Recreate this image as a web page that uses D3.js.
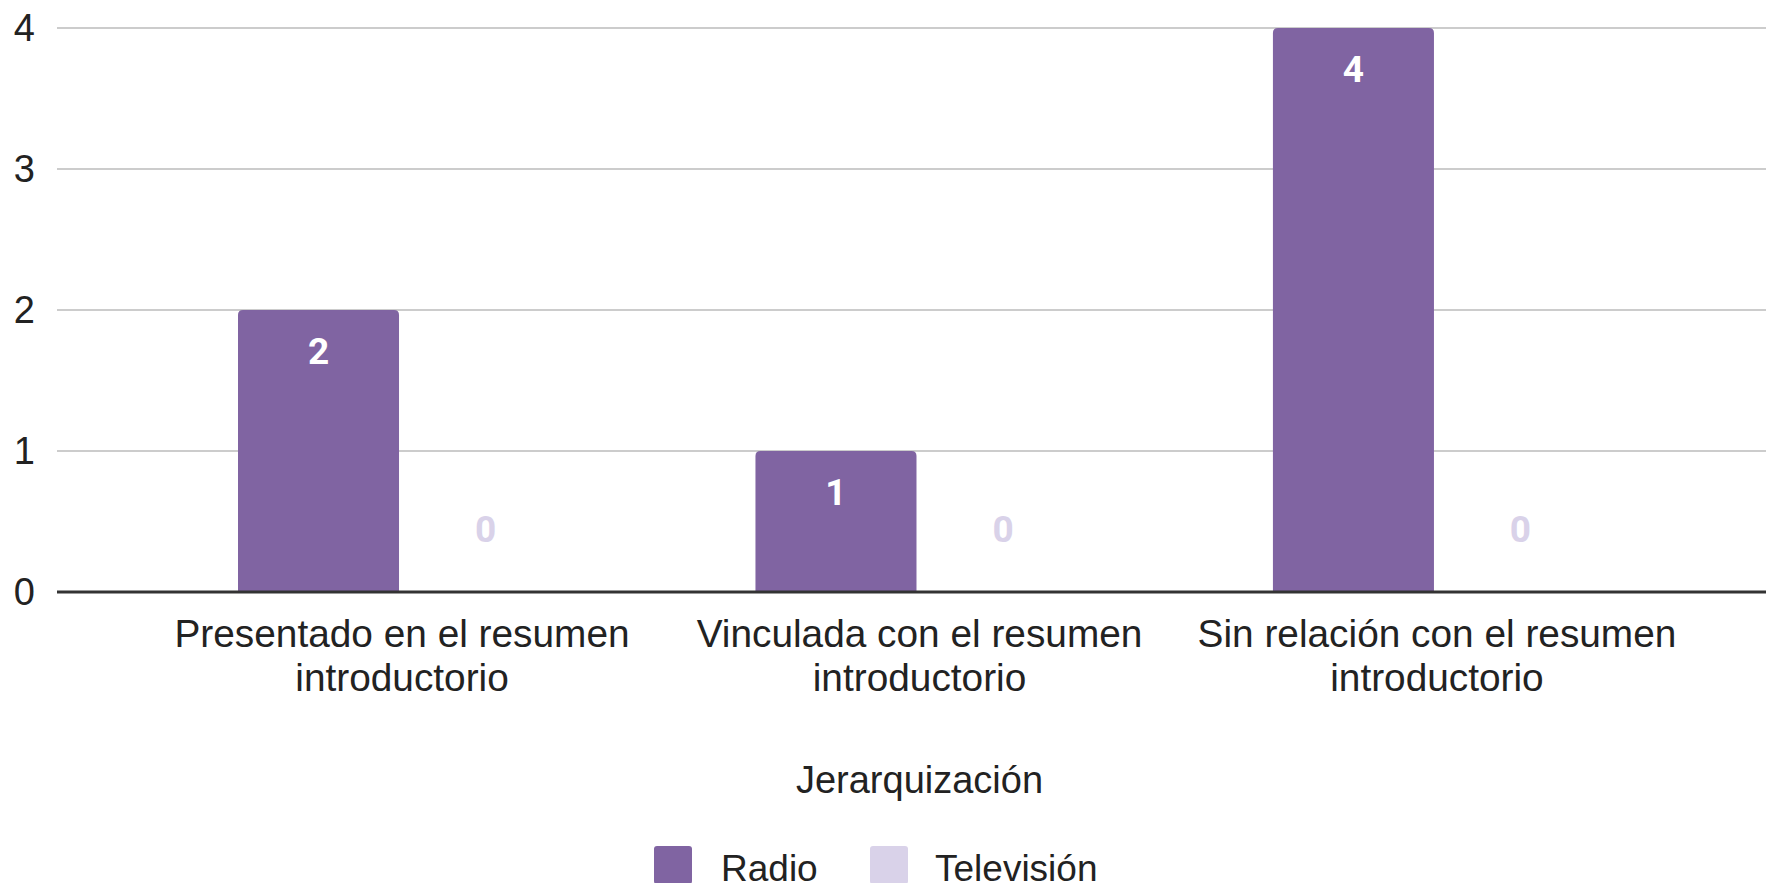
<!DOCTYPE html>
<html>
<head>
<meta charset="utf-8">
<script src="https://cdn.jsdelivr.net/npm/d3@7"></script>
<style>
  body { margin: 0; background: #fff; }
  svg { display: block; }
</style>
</head>
<body>
<div id="chart"></div>
<script>
// data
var categories = [
    ["Presentado en el resumen", "introductorio"],
    ["Vinculada con el resumen", "introductorio"],
    ["Sin relación con el resumen", "introductorio"]
];
var series = ["Radio", "Televisión"];
var radioValues = [2, 1, 4];
var tvValues = [0, 0, 0];
var yTicks = [0, 1, 2, 3, 4];
var axisTitle = "Jerarquización";

var colors = { "Radio": "#8064a2", "Televisión": "#d9d2e9" };

var width = 1766
var height = 883
var axisFont = "'Liberation Sans', Arial, sans-serif"

var svg = d3.select("#chart")
    .append("svg")
    .attr("width", width)
    .attr("height", height)

var catKeys = categories.map(c => c.join(" "))
var rows = catKeys.map((k, i) => ({ key: k, lines: categories[i], values: [radioValues[i], tvValues[i]] }))

// scales
var y = d3.scaleLinear()
    .domain([0, 4])
    .range([592, 28])

var x0 = d3.scaleBand()
    .domain(catKeys)
    .range([238, 1601])
    .paddingInner(0.366)

var x1 = d3.scaleBand()
    .domain(series)
    .range([0, x0.bandwidth()])
    .paddingInner(0.036)

// gridlines + y labels
var grid = svg.append("g")
grid.selectAll("line")
    .data(yTicks.filter(t => t > 0))
    .enter()
    .append("line")
    .attr("x1", 57)
    .attr("x2", width)
    .attr("y1", d => y(d))
    .attr("y2", d => y(d))
    .attr("stroke", "#cccccc")
    .attr("stroke-width", 2)

svg.append("g")
    .selectAll("text")
    .data(yTicks)
    .enter()
    .append("text")
    .attr("x", 35)
    .attr("y", d => y(d))
    .attr("dy", "0.35em")
    .attr("text-anchor", "end")
    .style("font-family", axisFont)
    .style("font-size", "38px")
    .style("fill", "#222")
    .text(d => d)

// bars with rounded top corners
var barPath = (x, y0, w, h, r) => {
    if (h <= 0) return ""
    r = Math.min(r, h, w / 2)
    return "M" + x + "," + (y0 + h) +
        "V" + (y0 + r) +
        "Q" + x + "," + y0 + " " + (x + r) + "," + y0 +
        "H" + (x + w - r) +
        "Q" + (x + w) + "," + y0 + " " + (x + w) + "," + (y0 + r) +
        "V" + (y0 + h) + "Z"
}

var groups = svg.append("g")
    .selectAll("g")
    .data(rows)
    .enter()
    .append("g")
    .attr("transform", d => "translate(" + x0(d.key) + ",0)")

var cells = groups.selectAll("g")
    .data(d => series.map((s, i) => ({ s: s, v: d.values[i] })))
    .enter()
    .append("g")

cells.append("path")
    .attr("d", d => barPath(x1(d.s), y(d.v), x1.bandwidth(), y(0) - y(d.v), 5))
    .attr("fill", d => colors[d.s])

// data labels
cells.append("text")
    .attr("x", d => x1(d.s) + x1.bandwidth() / 2)
    .attr("y", d => d.v > 0 ? y(d.v) + 54 : y(0) - 50)
    .attr("text-anchor", "middle")
    .style("font-family", "Roboto, sans-serif")
    .style("font-weight", "bold")
    .style("font-size", "37px")
    .style("fill", d => d.v > 0 ? "#ffffff" : colors[d.s])
    .text(d => d.v)

// baseline
svg.append("line")
    .attr("x1", 57)
    .attr("x2", width)
    .attr("y1", y(0))
    .attr("y2", y(0))
    .attr("stroke", "#333333")
    .attr("stroke-width", 3)

// x labels
var xl = svg.append("g")
    .selectAll("text")
    .data(rows)
    .enter()
    .append("text")
    .attr("text-anchor", "middle")
    .style("font-family", axisFont)
    .style("font-size", "38.8px")
    .style("fill", "#222")

xl.selectAll("tspan")
    .data(d => d.lines.map(l => ({ l: l, key: d.key })))
    .enter()
    .append("tspan")
    .attr("x", d => x0(d.key) + x0.bandwidth() / 2)
    .attr("y", (d, i) => 647 + i * 44)
    .text(d => d.l)

// axis title
svg.append("text")
    .attr("x", x0(catKeys[1]) + x0.bandwidth() / 2)
    .attr("y", 793)
    .attr("text-anchor", "middle")
    .style("font-family", axisFont)
    .style("font-size", "38px")
    .style("fill", "#222")
    .text(axisTitle)

// legend (cut by the bottom edge, as in the original)
var legendX = [654, 870]
var legend = svg.append("g")
    .selectAll("g")
    .data(series)
    .enter()
    .append("g")
    .attr("transform", (d, i) => "translate(" + legendX[i] + ",846)")

legend.append("rect")
    .attr("width", 38)
    .attr("height", 38)
    .attr("rx", 3)
    .attr("fill", d => colors[d])

legend.append("text")
    .attr("x", (d, i) => i == 0 ? 67 : 65)
    .attr("y", 35)
    .style("font-family", axisFont)
    .style("font-size", "37px")
    .style("fill", "#222")
    .text(d => d)
</script>
</body>
</html>
